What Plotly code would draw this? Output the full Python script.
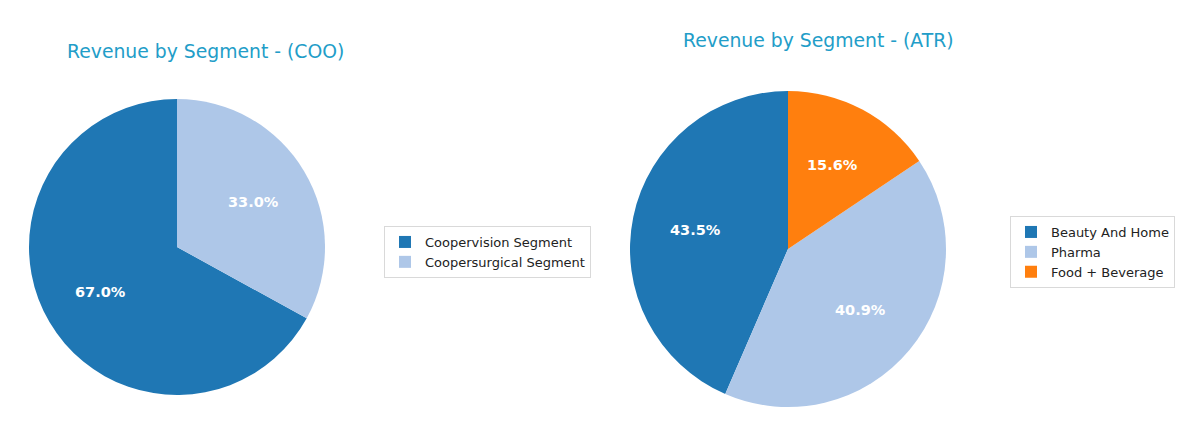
import math
import plotly.graph_objects as go

W, H = 1200, 438
OFF = 8  # the page body adds an 8px margin round the plot

coo_labels = ["Coopervision Segment", "Coopersurgical Segment"]
coo_values = [67.0, 33.0]
coo_colors = ["#1f77b4", "#aec7e8"]

atr_labels = ["Beauty And Home", "Pharma", "Food + Beverage"]
atr_values = [43.5, 40.9, 15.6]
atr_colors = ["#1f77b4", "#aec7e8", "#ff7f0e"]

title_color = "#229dc8"

# pie geometry in screen pixels: center x, center y, radius
coo_geo = (177, 247, 148)
atr_geo = (788, 249, 158)


def px_x(x):
    return (x - OFF) / W


def px_y(y):
    return 1 - (y - OFF) / H


def domain(geo):
    cx, cy, r = geo
    return dict(x=[px_x(cx - r), px_x(cx + r)], y=[px_y(cy + r), px_y(cy - r)])


def start_rotation(values):
    # plotly's counterclockwise pie ends its first slice at `rotation`,
    # so shift back by that slice to make it start at 12 o'clock
    return -values[0] / sum(values) * 360


def pct_labels(values, geo):
    """percent text at 0.6 radius, like matplotlib's pctdistance"""
    cx, cy, r = geo
    total = sum(values)
    start = 90.0
    out = []
    for v in values:
        span = v / total * 360
        mid = math.radians(start + span / 2)
        x = cx + 0.6 * r * math.cos(mid)
        y = cy - 0.6 * r * math.sin(mid)
        out.append(dict(x=px_x(x), y=px_y(y), xref="paper", yref="paper",
                        xanchor="center", yanchor="middle",
                        text="%.1f%%" % (v / total * 100), showarrow=False,
                        font=dict(family="DejaVu Sans", size=14.5, color="white", weight="bold")))
        start += span
    return out


fig = go.Figure()
fig.add_trace(go.Pie(labels=coo_labels, values=coo_values, sort=False,
                     direction="counterclockwise", rotation=start_rotation(coo_values),
                     marker=dict(colors=coo_colors), textinfo="none",
                     domain=domain(coo_geo), legend="legend"))
fig.add_trace(go.Pie(labels=atr_labels, values=atr_values, sort=False,
                     direction="counterclockwise", rotation=start_rotation(atr_values),
                     marker=dict(colors=atr_colors), textinfo="none",
                     domain=domain(atr_geo), legend="legend2"))

annotations = pct_labels(coo_values, coo_geo) + pct_labels(atr_values, atr_geo)
annotations.append(dict(x=px_x(205), y=px_y(51), xref="paper", yref="paper",
                        xanchor="center", yanchor="middle",
                        text="Revenue by Segment - (COO)", showarrow=False,
                        font=dict(family="DejaVu Sans", size=18.8, color=title_color)))
annotations.append(dict(x=px_x(818), y=px_y(40), xref="paper", yref="paper",
                        xanchor="center", yanchor="middle",
                        text="Revenue by Segment - (ATR)", showarrow=False,
                        font=dict(family="DejaVu Sans", size=18.8, color=title_color)))

legend_style = dict(bgcolor="white", bordercolor="#d9d9d9", borderwidth=1,
                    font=dict(family="DejaVu Sans", size=13, color="#222222"),
                    xanchor="left", yanchor="top", traceorder="normal")

fig.update_layout(
    width=W, height=H,
    margin=dict(l=0, r=0, t=0, b=0),
    paper_bgcolor="white",
    plot_bgcolor="white",
    annotations=annotations,
    legend=dict(x=px_x(384), y=px_y(226), **legend_style),
    legend2=dict(x=px_x(1010), y=px_y(216), **legend_style),
)

fig.write_html("out.html")
